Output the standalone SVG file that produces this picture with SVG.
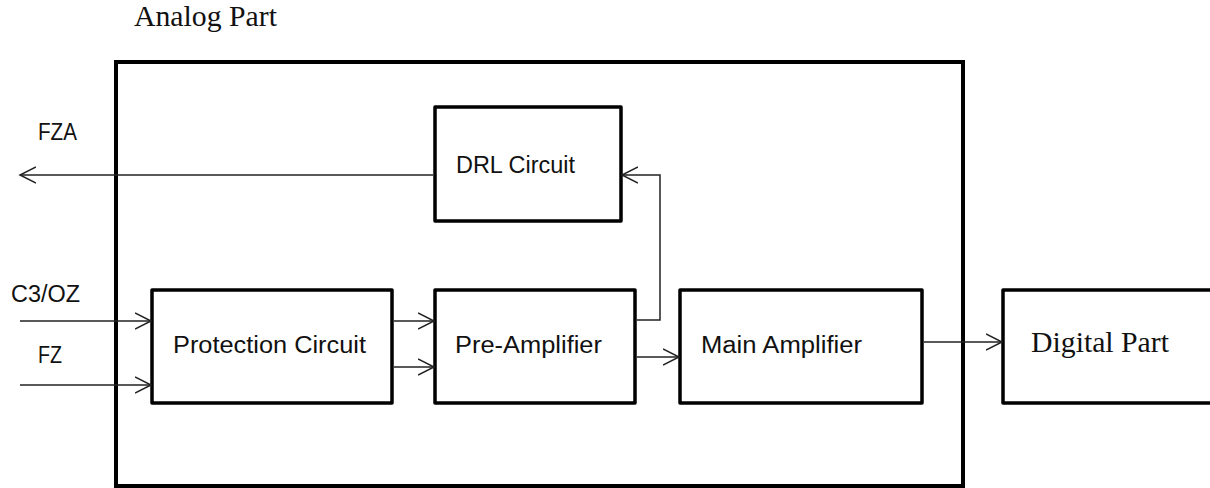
<svg xmlns="http://www.w3.org/2000/svg" width="1210" height="488" viewBox="0 0 1210 488">
<style>
.box{fill:#fff;stroke:#000;stroke-width:3.5;stroke-linejoin:round}
.outer{fill:none;stroke:#000;stroke-width:4}
.wire{fill:none;stroke:#222;stroke-width:1.5}
.sans{font-family:"Liberation Sans",Arial,sans-serif;font-size:23px;fill:#111}
.serif{font-family:"Liberation Serif","Times New Roman",serif;font-size:29px;fill:#111}
</style>
<defs>
<marker id="arr" markerUnits="userSpaceOnUse" markerWidth="20" markerHeight="20" viewBox="0 0 20 20" refX="16" refY="10" orient="auto">
<path d="M0,2 L16,10 L0,18" fill="none" stroke="#222" stroke-width="1.5"/>
</marker>
</defs>
<rect id="analog-part" class="outer" x="116" y="62" width="847" height="424"/>
<text class="serif" x="134" y="26" textLength="143" lengthAdjust="spacingAndGlyphs">Analog Part</text>
<g id="drl">
<rect class="box" x="435" y="107" width="186" height="114"/>
<text class="sans" x="456" y="173" textLength="119" lengthAdjust="spacingAndGlyphs">DRL Circuit</text>
</g>
<g id="protection">
<rect class="box" x="152" y="290" width="240" height="113"/>
<text class="sans" x="173" y="353" textLength="193" lengthAdjust="spacingAndGlyphs">Protection Circuit</text>
</g>
<g id="preamp">
<rect class="box" x="435" y="290" width="200" height="113"/>
<text class="sans" x="455" y="353" textLength="147" lengthAdjust="spacingAndGlyphs">Pre-Amplifier</text>
</g>
<g id="mainamp">
<rect class="box" x="680" y="290" width="242" height="113"/>
<text class="sans" x="701" y="353" textLength="161" lengthAdjust="spacingAndGlyphs">Main Amplifier</text>
</g>
<g id="digital">
<rect class="box" x="1003" y="290" width="220" height="113"/>
<text class="serif" x="1031" y="352" textLength="138" lengthAdjust="spacingAndGlyphs">Digital Part</text>
</g>
<g id="labels">
<text class="sans" x="38" y="140" textLength="39" lengthAdjust="spacingAndGlyphs">FZA</text>
<text class="sans" x="11" y="302" textLength="69" lengthAdjust="spacingAndGlyphs">C3/OZ</text>
<text class="sans" x="38" y="363" textLength="24" lengthAdjust="spacingAndGlyphs">FZ</text>
</g>
<g id="connectors">
<line class="wire" x1="433" y1="175" x2="20" y2="175" marker-end="url(#arr)"/>
<line class="wire" x1="20" y1="321" x2="151" y2="321" marker-end="url(#arr)"/>
<line class="wire" x1="20" y1="385" x2="151" y2="385" marker-end="url(#arr)"/>
<line class="wire" x1="394" y1="321" x2="434" y2="321" marker-end="url(#arr)"/>
<line class="wire" x1="394" y1="367" x2="434" y2="367" marker-end="url(#arr)"/>
<line class="wire" x1="637" y1="357" x2="679" y2="357" marker-end="url(#arr)"/>
<polyline class="wire" points="637,320 660,320 660,175 622,175" marker-end="url(#arr)"/>
<line class="wire" x1="924" y1="342" x2="1002" y2="342" marker-end="url(#arr)"/>
</g>
</svg>
